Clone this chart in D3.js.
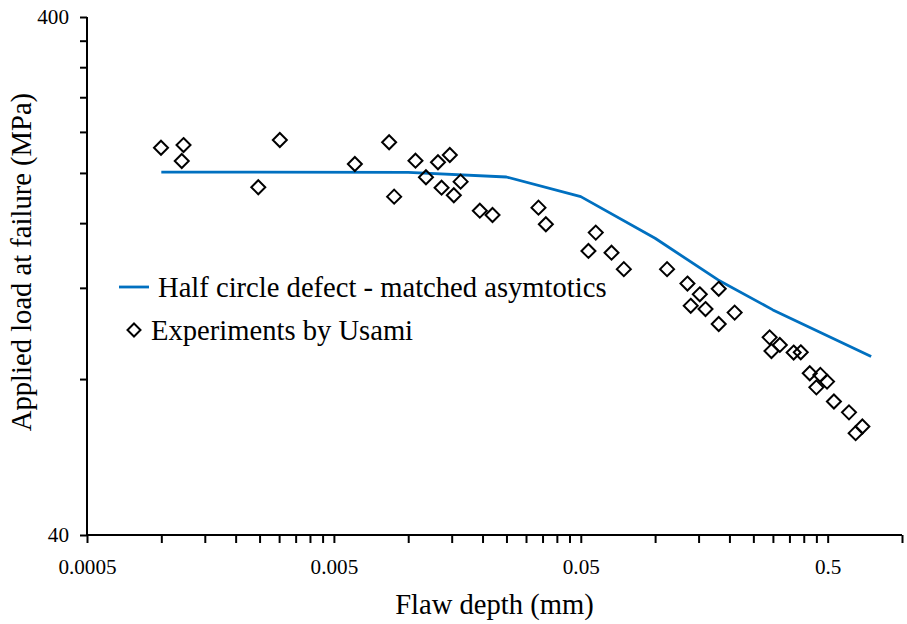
<!DOCTYPE html>
<html>
<head>
<meta charset="utf-8">
<script src="https://cdn.jsdelivr.net/npm/d3@7/dist/d3.min.js"></script>
<style>
  html, body { margin: 0; padding: 0; background: #fff; }
  svg { display: block; }
</style>
</head>
<body>
<svg id="chart" width="907" height="624"></svg>
<script>
// ---- data ----
const lineDepth = [0.001, 0.01, 0.025, 0.05, 0.1, 0.18, 0.3, 0.75];
const lineLoad  = [200.8, 200.5, 196.4, 180, 149.6, 124.3, 108.8, 88.4];

const expDepth = [0.000997, 0.00123, 0.00121, 0.00302, 0.00247, 0.00608, 0.00837, 0.00877,
  0.0107, 0.0118, 0.0132, 0.01474, 0.01365, 0.0163, 0.0153, 0.0195, 0.02195,
  0.0337, 0.0361, 0.0575, 0.0537, 0.0666, 0.0747, 0.1118, 0.1352, 0.1517, 0.181,
  0.1394, 0.16, 0.181, 0.210, 0.291, 0.320, 0.296, 0.364, 0.389, 0.423, 0.467,
  0.497, 0.450, 0.530, 0.610, 0.691, 0.649];
const expLoad = [223.7, 226.4, 210.9, 231.5, 187.7, 208.1, 229.2, 180.0,
  211.2, 196.2, 209.7, 216.6, 187.3, 192.4, 181.1, 169.1, 165.9,
  171.4, 159.2, 153.4, 141.4, 140.3, 130.4, 130.4, 122.3, 116.6, 119.5,
  110.8, 109.2, 102.2, 107.5, 96.3, 93.1, 90.6, 90.0, 90.1, 82.1, 81.5,
  79.1, 77.1, 72.4, 69.0, 64.8, 62.9];

const xDomain = [0.0005, 1];
const yDomain = [40, 400];
const xTickLabels = ["0.0005", "0.005", "0.05", "0.5"];
const yTickLabels = ["40", "400"];
const xDecades = [0.0005, 0.005, 0.05, 0.5];
const yTickStep = 40;

const seriesNames = ["Half circle defect - matched asymtotics", "Experiments by Usami"];
const xTitle = "Flaw depth (mm)";
const yTitle = "Applied load at failure (MPa)";

// ---- layout ----
const FONT = '"Liberation Serif", "Times New Roman", Tinos, serif';
const svg = d3.select("#chart");
const L = 87, R = 902, T = 17, B = 535;
const lineColor = "#0070C0";

const x = d3.scaleLog().domain(xDomain).range([L, R]);
const y = d3.scaleLog().domain(yDomain).range([B, T]);

// tick values
const xTicks = [];
xDecades.forEach(d => { for (let k = 1; k <= 10; k++) { const v = +(d * k).toPrecision(6); if (v <= xDomain[1] + 1e-12 && !xTicks.includes(v)) xTicks.push(v); } });
const yTicks = [];
for (let v = yDomain[0]; v <= yDomain[1] + 1e-9; v += yTickStep) yTicks.push(v);

const xLabelSet = new Map(xTickLabels.map(s => [+s, s]));
const yLabelSet = new Map(yTickLabels.map(s => [+s, s]));

const xAxis = d3.axisBottom(x).tickValues(xTicks).tickSize(8).tickPadding(16)
  .tickFormat(v => { for (const [k, s] of xLabelSet) if (Math.abs(k - v) < 1e-9) return s; return ""; });
const yAxis = d3.axisLeft(y).tickValues(yTicks).tickSize(7).tickPadding(11)
  .tickFormat(v => { for (const [k, s] of yLabelSet) if (Math.abs(k - v) < 1e-9) return s; return ""; });

const gx = svg.append("g").attr("transform", `translate(0,${B})`).call(xAxis);
const gy = svg.append("g").attr("transform", `translate(${L},0)`).call(yAxis);
[gx, gy].forEach(g => {
  g.attr("font-family", FONT);
  g.select(".domain").attr("stroke", "#000").attr("stroke-width", 2);
  g.selectAll(".tick line").attr("stroke", "#000").attr("stroke-width", 2);
  g.selectAll(".tick text").style("font-family", FONT)
    .style("font-size", "21.2px").attr("fill", "#000");
});
gx.select(".domain").attr("d", `M${L},0H${R}`);
gy.select(".domain").attr("d", `M0,${T}V${B}`);

// ---- line series ----
const lineData = lineDepth.map((d, i) => [d, lineLoad[i]]);
svg.append("path")
  .datum(lineData)
  .attr("fill", "none")
  .attr("stroke", lineColor)
  .attr("stroke-width", 2.8)
  .attr("stroke-linejoin", "round")
  .attr("d", d3.line().x(d => x(d[0])).y(d => y(d[1])));

// ---- experiment markers ----
const diamond = s => `M0,${-s}L${s},0L0,${s}L${-s},0Z`;
svg.append("g").selectAll("path")
  .data(expDepth.map((d, i) => [d, expLoad[i]]))
  .join("path")
  .attr("d", diamond(7))
  .attr("transform", d => `translate(${x(d[0])},${y(d[1])})`)
  .attr("fill", "none")
  .attr("stroke", "#000")
  .attr("stroke-width", 2);

// ---- legend ----
const lg = svg.append("g");
lg.append("line").attr("x1", 119).attr("x2", 149).attr("y1", 287).attr("y2", 287)
  .attr("stroke", lineColor).attr("stroke-width", 2.8);
lg.append("text").attr("x", 158).attr("y", 297).style("font-family", FONT).style("font-size", "28.6px").text(seriesNames[0]);
lg.append("path").attr("d", diamond(6.5)).attr("transform", "translate(134,330)")
  .attr("fill", "none").attr("stroke", "#000").attr("stroke-width", 2);
lg.append("text").attr("x", 151).attr("y", 340).style("font-family", FONT).style("font-size", "28.6px").text(seriesNames[1]);

// ---- axis titles ----
svg.append("text").attr("x", (L + R) / 2).attr("y", 614).attr("text-anchor", "middle")
  .style("font-family", FONT).style("font-size", "28.6px").text(xTitle);
svg.append("text").attr("transform", `translate(31,262) rotate(-90)`).attr("text-anchor", "middle")
  .style("font-family", FONT).style("font-size", "28.6px").text(yTitle);
</script>
</body>
</html>
